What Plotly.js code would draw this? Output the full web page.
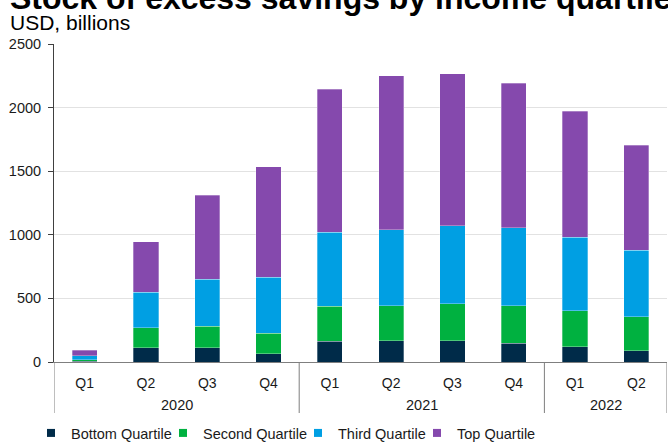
<!DOCTYPE html>
<html>
<head>
<meta charset="utf-8">
<script src="https://cdn.plot.ly/plotly-3.0.1.min.js"></script>
<style>html,body{margin:0;padding:0;background:#fff}#chart{width:668px;height:443px}</style>
</head>
<body>
<div id="chart"></div>
<script>
const years = ["2020","2020","2020","2020","2021","2021","2021","2021","2022","2022"];
const quarters = ["Q1","Q2","Q3","Q4","Q1","Q2","Q3","Q4","Q1","Q2"];
const bottomQuartile = [5, 112, 112, 63, 165, 168, 168, 147, 120, 89];
const secondQuartile = [11, 158, 171, 165, 275, 275, 290, 296, 283, 267];
const thirdQuartile = [34, 278, 369, 440, 582, 595, 614, 613, 577, 524];
const topQuartile = [44, 398, 658, 867, 1122, 1213, 1195, 1135, 993, 823];
const seriesNames = ["Bottom Quartile", "Second Quartile", "Third Quartile", "Top Quartile"];
const seriesColors = ["#002B49", "#00B140", "#009FE3", "#8549AD"];
const yTicks = [0, 500, 1000, 1500, 2000, 2500];

const xKeys = years.map((y, i) => y + " " + quarters[i]);
const allValues = [bottomQuartile, secondQuartile, thirdQuartile, topQuartile];
const legendIds = ["legend", "legend2", "legend3", "legend4"];
const legendX = [31, 163, 298, 417];

const traces = allValues.map((vals, i) => ({
  type: "bar",
  name: seriesNames[i],
  x: xKeys,
  y: vals,
  marker: {color: seriesColors[i], line: {color: "rgba(255,255,255,0.6)", width: 0.5}},
  width: 0.41,
  showlegend: false,
  hoverinfo: "skip"
}));
// legend entries (small square swatches like the reference)
seriesNames.forEach((n, i) => traces.push({
  type: "scatter", mode: "markers", name: n,
  x: [null], y: [null],
  marker: {symbol: "square", size: 8, color: seriesColors[i]},
  showlegend: true, legend: legendIds[i], hoverinfo: "skip"
}));

// year groups: labels centred under their quarters, dividers between groups
const groups = [];
years.forEach((y, i) => {
  const g = groups[groups.length - 1];
  if (g && g.year === y) g.end = i; else groups.push({year: y, start: i, end: i});
});
const divTop = 0, divBottom = -51 / 318;
const shapes = [];
const annotations = [];
groups.forEach((g, k) => {
  annotations.push({
    text: g.year, xref: "x", yref: "paper",
    x: (g.start + g.end) / 2, y: -43 / 318, xanchor: "center", yanchor: "middle",
    showarrow: false, font: {size: 14.5, color: "#1a1a1a"}
  });
  if (k === 0) shapes.push({type: "line", xref: "x", yref: "paper", x0: g.start - 0.5, x1: g.start - 0.5, y0: divTop, y1: divBottom, line: {color: "#7f7f7f", width: 1}});
  shapes.push({type: "line", xref: "x", yref: "paper", x0: g.end + 0.5, x1: g.end + 0.5, y0: divTop, y1: divBottom, line: {color: "#7f7f7f", width: 1}});
});
annotations.push({
  text: "<b>Stock of excess savings by income quartile</b>", xref: "paper", yref: "paper",
  x: (8 - 54) / 613, y: (362 - 18) / 318, xanchor: "left", yanchor: "bottom",
  showarrow: false, font: {size: 32, color: "#000"}
});
annotations.push({
  text: "USD, billions", xref: "paper", yref: "paper",
  x: (8 - 54) / 613, y: (362 - 22.5) / 318, xanchor: "left", yanchor: "middle",
  showarrow: false, font: {size: 21, color: "#000"}
});

const layout = {
  width: 668, height: 443,
  margin: {l: 54, r: 1, t: 44, b: 81},
  paper_bgcolor: "#fff", plot_bgcolor: "#fff",
  barmode: "stack",
  font: {family: "Liberation Sans, Arial, sans-serif", color: "#1a1a1a", size: 14},
  annotations: annotations,
  shapes: shapes,
  xaxis: {
    type: "category",
    tickvals: xKeys, ticktext: quarters,
    range: [-0.5, xKeys.length - 0.5],
    showline: true, linecolor: "#7f7f7f", linewidth: 1,
    showgrid: false, zeroline: false,
    ticks: "", ticklabelstandoff: 8,
    tickfont: {size: 14, color: "#1a1a1a"},
    automargin: false
  },
  yaxis: {
    range: [0, 2500],
    tickvals: yTicks,
    ticks: "outside", ticklen: 5, tickcolor: "#404040",
    showline: true, linecolor: "#404040", linewidth: 1,
    showgrid: true, gridcolor: "#e2e2e2", gridwidth: 1,
    zeroline: false, ticklabelstandoff: 4,
    tickfont: {size: 14.5, color: "#1a1a1a"},
    automargin: false
  },
  showlegend: true
};
legendIds.forEach((id, i) => {
  layout[id] = {
    orientation: "h",
    xref: "container", yref: "container",
    x: legendX[i] / 668, xanchor: "left", y: (443 - 433) / 443, yanchor: "middle",
    font: {size: 14.5, color: "#1a1a1a"},
    itemwidth: 30, bgcolor: "rgba(0,0,0,0)"
  };
});

Plotly.newPlot("chart", traces, layout, {staticPlot: true, displayModeBar: false});
</script>
</body>
</html>
